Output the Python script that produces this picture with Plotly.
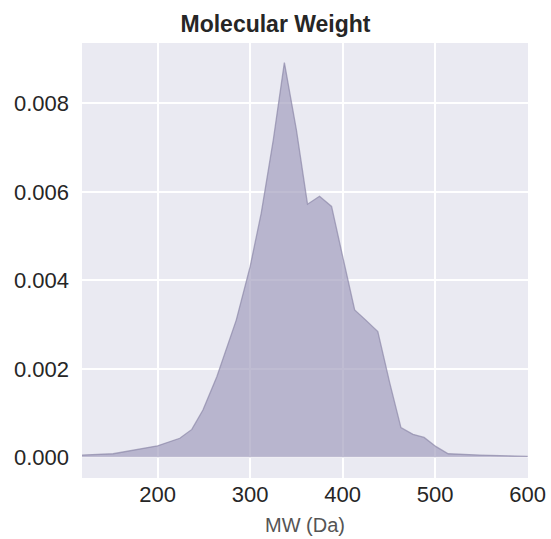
import plotly.graph_objects as go

mw = [118, 152, 200, 224, 237, 249, 264, 274, 285, 300, 312, 325, 337, 350, 362, 375,
      388, 400, 413, 425, 438, 451, 463, 476, 488, 501, 514, 548, 600]
density = [0.00005, 0.00008, 0.00026, 0.00043, 0.00063, 0.00107, 0.00182, 0.00242, 0.00310,
           0.00431, 0.00552, 0.00717, 0.00892, 0.00740, 0.00572, 0.00590, 0.00567, 0.00454,
           0.00333, 0.00310, 0.00284, 0.00167, 0.00067, 0.00052, 0.00045, 0.00024, 0.00008,
           0.00005, 0.00002]
x_ticks = [200, 300, 400, 500, 600]
y_ticks = [0.000, 0.002, 0.004, 0.006, 0.008]

fig = go.Figure()
fig.add_trace(go.Scatter(
    x=mw, y=density, mode="lines", fill="tozeroy",
    line=dict(color="rgba(135,130,165,0.65)", width=1.3),
    fillcolor="rgba(160,156,188,0.68)", hoverinfo="skip", showlegend=False))

font = "Liberation Sans, Arial, sans-serif"
fig.update_layout(
    width=551, height=539,
    margin=dict(l=82, r=23, t=43, b=61, autoexpand=False),
    paper_bgcolor="white", plot_bgcolor="#EAEAF2",
    title=dict(text="<b>Molecular Weight</b>", x=0.5, xanchor="center",
               y=1 - 24 / 539, yanchor="middle",
               font=dict(family=font, size=23, color="#262626")),
    font=dict(family=font, color="#262626"),
    xaxis=dict(range=[118.3, 600.3], tickvals=x_ticks, ticktext=[str(v) for v in x_ticks],
               showgrid=True, gridcolor="white", gridwidth=1.5, zeroline=False,
               showline=False, ticks="", tickfont=dict(size=22), ticklabelstandoff=1,
               automargin=False,
               title=dict(text="MW (Da)", font=dict(size=20, color="#555555"), standoff=11)),
    yaxis=dict(range=[-0.000468, 0.009363], tickvals=y_ticks,
               ticktext=[f"{v:.3f}" for v in y_ticks],
               showgrid=True, gridcolor="white", gridwidth=1.5, zeroline=False,
               showline=False, ticks="", tickfont=dict(size=22), ticklabelstandoff=12,
               automargin=False),
)
fig.write_html("out.html", config={"displayModeBar": False},
               post_script="document.body.style.margin='0';document.body.style.overflow='hidden';")
